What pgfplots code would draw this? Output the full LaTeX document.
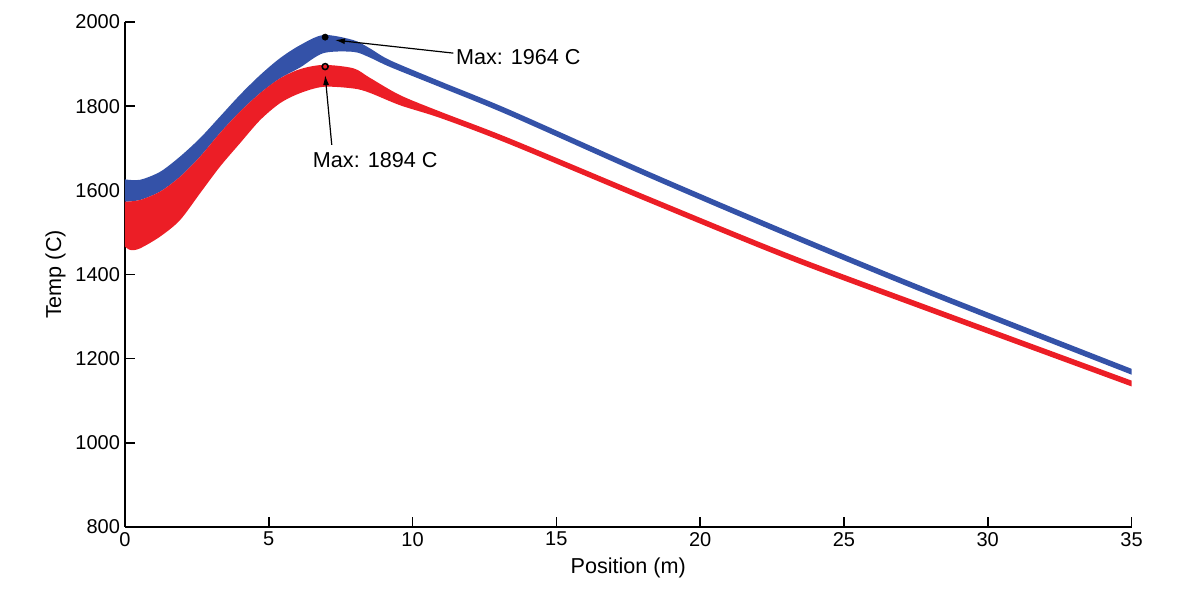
\documentclass[border=0pt]{standalone}
\usepackage{fontspec}
\setmainfont{Liberation Sans}
\usepackage{pgfplots}
\pgfplotsset{compat=1.18}
\usepgfplotslibrary{fillbetween}
\usetikzlibrary{arrows.meta}
\definecolor{mblue}{RGB}{52,82,168}
\definecolor{mred}{RGB}{236,30,38}
\begin{document}
\begin{tikzpicture}
\begin{axis}[
  scale only axis, width=503.25pt, height=252.5pt,
  xmin=0, xmax=35, ymin=800, ymax=2000,
  axis lines*=left,
  axis line style={line width=0.8pt},
  tick style={line width=0.8pt, black},
  tick align=inside,
  major tick length=5pt,
  xtick={0,5,...,35}, ytick={800,1000,...,2000},
  /pgf/number format/1000 sep={},
  /pgf/number format/assume math mode=true,
  tick label style={font=\fontsize{10}{12}\selectfont},
  label style={font=\fontsize{10.8}{13}\selectfont},
  xlabel={Position (m)}, ylabel={Temp (C)},
  xticklabel style={yshift=1pt},
  yticklabel style={xshift=1pt},
  xlabel style={yshift=1pt},
  ylabel style={yshift=-2pt},
  clip=false,
]
% blue band
\addplot[name path=bu, draw=none, smooth] coordinates {
(0,1626) (0.52,1625) (1.22,1644) (1.91,1680) (2.61,1724) (3.30,1775) (4.0,1827) (4.70,1874) (5.39,1914) (6.09,1945) (6.9,1969) (7.94,1957) (8.5,1938) (9.22,1909) (11,1858) (13.39,1791) (18.26,1643) (23.13,1501) (28,1364) (35,1176)};
\addplot[name path=bl, draw=none, smooth] coordinates {
(0,1573) (0.52,1577) (1.22,1597) (1.91,1632) (2.61,1680) (3.30,1736) (4.0,1787) (4.70,1831) (5.39,1866) (6.09,1892) (6.9,1926) (7.94,1929) (8.5,1916) (9.22,1893) (11,1844) (13.39,1777) (18.26,1629) (23.13,1487) (28,1350) (35,1162)};
\addplot[mblue] fill between[of=bu and bl];
% red band
\addplot[name path=ru, draw=none, smooth] coordinates {
(0,1573) (0.52,1577) (1.22,1597) (1.91,1632) (2.61,1680) (3.30,1736) (4.0,1787) (4.70,1831) (5.39,1866) (6.09,1888) (6.9,1898) (7.94,1890) (8.5,1868) (9.57,1826) (11,1786) (13.39,1723) (18.26,1584) (23.13,1448) (28,1324) (35,1148)};
\addplot[name path=rl, draw=none, smooth] coordinates {
(0,1466) (0.2,1458) (0.52,1462) (1.22,1490) (1.91,1529) (2.61,1593) (3.30,1656) (4.0,1712) (4.70,1767) (5.39,1807) (6.09,1831) (6.9,1846) (7.94,1842) (8.5,1832) (9.57,1802) (11,1771) (13.39,1709) (18.26,1570) (23.13,1434) (28,1310) (35,1134)};
\addplot[mred] fill between[of=ru and rl];
% max markers
\addplot[only marks, mark=*, mark size=1.5pt, black] coordinates {(6.96,1964)};
\addplot[only marks, mark=o, mark size=1.5pt, black, line width=0.8pt] coordinates {(6.96,1894)};
% annotations
\draw[black, line width=0.6pt, -{Latex[length=5pt,width=3pt]}] (axis cs:11.42,1926) -- (axis cs:7.30,1957);
\node[anchor=west, inner sep=0pt, font=\fontsize{10.8}{13}\selectfont] at (axis cs:11.5,1916) {Max: 1964 C};
\draw[black, line width=0.6pt, -{Latex[length=5pt,width=3pt]}] (axis cs:7.19,1708) -- (axis cs:6.96,1874);
\node[inner sep=0pt, font=\fontsize{10.8}{13}\selectfont] at (axis cs:8.7,1672) {Max: 1894 C};
\end{axis}
\pgfresetboundingbox
\path[use as bounding box] (-62.5pt,-38pt) rectangle (537.5pt,263.5pt);
\end{tikzpicture}
\end{document}
